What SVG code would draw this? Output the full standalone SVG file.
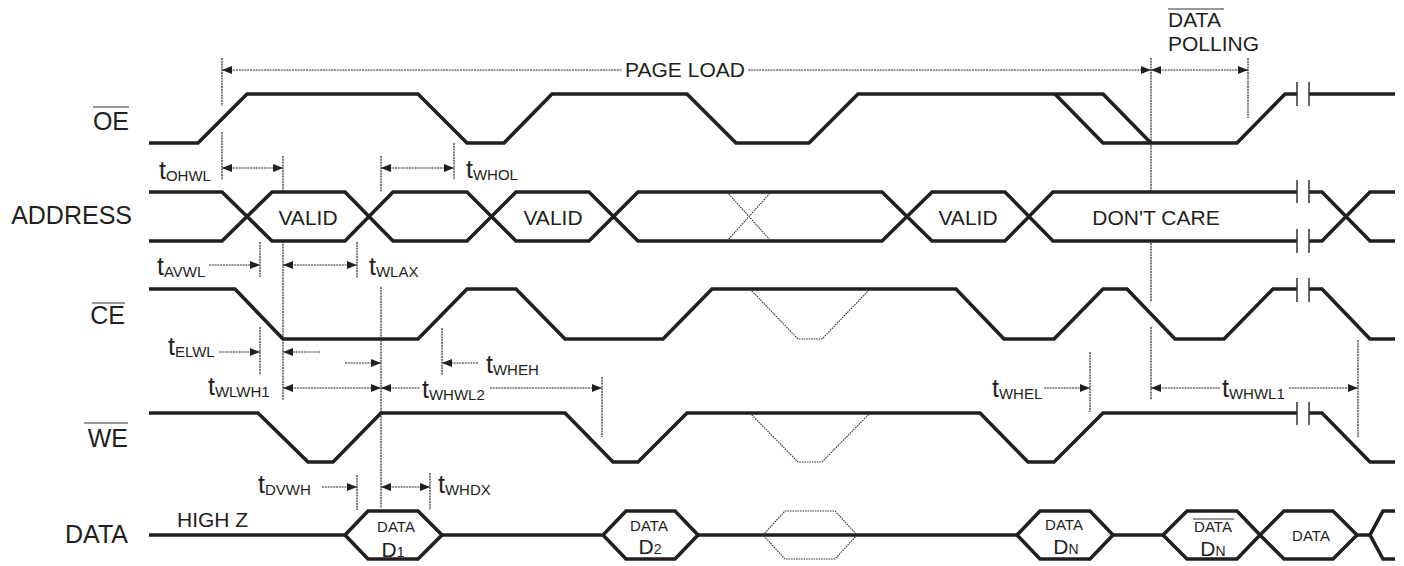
<svg xmlns="http://www.w3.org/2000/svg" width="1404" height="566" viewBox="0 0 1404 566">
<style>
.sig{fill:none;stroke:#231f20;stroke-width:3.6;stroke-linejoin:miter;stroke-linecap:butt}
.dot{fill:none;stroke:#333;stroke-width:1.1;stroke-dasharray:1.6 0.9}
.dim{fill:none;stroke:#2a2a2a;stroke-width:1.2;stroke-dasharray:2 0.8}
.brk{fill:none;stroke:#333;stroke-width:1.5}
.bar{stroke:#333;stroke-width:1.2}
text{font-family:"Liberation Sans",Arial,sans-serif;fill:#231f20}
.lbl{font-size:25px;text-anchor:end}
.t{font-size:25px}
.sub{font-size:15px}
.mid{font-size:21px}
.sm{font-size:15px;text-anchor:middle}
.dn{font-size:21px;text-anchor:middle}
.dns{font-size:14px}
</style>
<defs>
<marker id="ah" viewBox="0 0 10 8" refX="10" refY="4" markerWidth="10" markerHeight="8" markerUnits="userSpaceOnUse" orient="auto-start-reverse">
<path d="M0,0 L10,4 L0,8 Z" fill="#231f20"/>
</marker>
</defs>

<g id="labels">
<text class="lbl" x="129" y="130">OE</text>
<line class="bar" x1="93" y1="107" x2="129" y2="107"/>
<text class="lbl" x="132" y="224">ADDRESS</text>
<text class="lbl" x="125" y="324">CE</text>
<line class="bar" x1="92" y1="303" x2="125" y2="303"/>
<text class="lbl" x="128" y="447">WE</text>
<line class="bar" x1="84" y1="423" x2="128" y2="423"/>
<text class="lbl" x="128" y="543">DATA</text>
</g>

<g id="sig-oe">
<path class="sig" d="M149,143 H198 L247,94 H418 L467,143 H504 L552,94 H687 L736,143 H809 L858,94 H1103 L1151,143"/>
<path class="sig" d="M1055,94 L1103,143 H1237 L1285,94 H1297"/>
<path class="sig" d="M1309,94 H1395"/>
<path class="brk" d="M1297,82 V106 M1309,82 V106"/>
</g>

<g id="sig-address">
<path class="sig" d="M149,192 H222 L272,241 H345 L393,192 H467 L516,241 H589 L638,192 H882 L932,241 H1005 L1053,192 H1297"/>
<path class="sig" d="M149,241 H222 L272,192 H345 L393,241 H467 L516,192 H589 L638,241 H882 L932,192 H1005 L1053,241 H1297"/>
<path class="sig" d="M1309,192 H1322 L1370,241 H1395 M1309,241 H1322 L1370,192 H1395"/>
<path class="dot" d="M727,192 L771,241 M727,241 L771,192"/>
<path class="brk" d="M1297,180 V203 M1309,180 V203 M1297,229 V253 M1309,229 V253"/>
<text class="mid" x="308" y="225" text-anchor="middle">VALID</text>
<text class="mid" x="553" y="225" text-anchor="middle">VALID</text>
<text class="mid" x="968" y="225" text-anchor="middle">VALID</text>
<text class="mid" x="1156" y="225" text-anchor="middle">DON'T CARE</text>
</g>

<g id="sig-ce">
<path class="sig" d="M149,289 H235 L283,339 H418 L467,289 H516 L565,339 H663 L712,289 H956 L1004,339 H1054 L1103,289 H1127 L1175,339 H1224 L1273,289 H1297"/>
<path class="sig" d="M1309,289 H1322 L1370,339 H1395"/>
<path class="dot" d="M750,289 L798,339 H822 L870,289"/>
<path class="brk" d="M1297,278 V302 M1309,278 V302"/>
</g>

<g id="sig-we">
<path class="sig" d="M149,413 H258 L308,462 H333 L381,413 H565 L613,462 H638 L687,413 H980 L1028,462 H1054 L1103,413 H1297"/>
<path class="sig" d="M1309,413 H1322 L1370,462 H1395"/>
<path class="dot" d="M750,413 L798,462 H822 L870,413"/>
<path class="brk" d="M1297,402 V425 M1309,402 V425"/>
</g>

<g id="sig-data">
<path class="sig" d="M149,535 H345 M442,535 H603 M698,535 H1017 M1113,535 H1163 M1357,535 H1370"/>
<path class="sig" d="M345,535 L368,511 H418 L442,535 L418,559 H368 Z"/>
<path class="sig" d="M603,535 L626,511 H675 L698,535 L675,559 H626 Z"/>
<path class="sig" d="M1017,535 L1040,511 H1090 L1113,535 L1090,559 H1040 Z"/>
<path class="sig" d="M1163,535 L1187,511 H1237 L1260,535 L1237,559 H1187 Z"/>
<path class="sig" d="M1260,535 L1284,511 H1333 L1357,535 L1333,559 H1284 Z"/>
<path class="sig" d="M1395,511 H1383 L1370,535 L1383,559 H1395"/>
<path class="dot" d="M763,535 L785,511 H835 L857,535 L835,559 H785 Z"/>
<text class="mid" x="177" y="527">HIGH Z</text>
<text class="sm" x="396" y="532">DATA</text>
<text class="dn" x="393" y="557">D<tspan class="dns">1</tspan></text>
<text class="sm" x="649" y="531">DATA</text>
<text class="dn" x="650" y="554">D<tspan class="dns">2</tspan></text>
<text class="sm" x="1064" y="530">DATA</text>
<text class="dn" x="1066" y="554">D<tspan class="dns">N</tspan></text>
<text class="sm" x="1213" y="532">DATA</text>
<line class="bar" x1="1193" y1="519" x2="1234" y2="519"/>
<text class="dn" x="1213" y="556">D<tspan class="dns">N</tspan></text>
<text class="sm" x="1311" y="541">DATA</text>
</g>

<g id="timing">
<path class="dim" d="M222,58 V106 M222,132 V180 M283,156 V192 M283,241 V400 M381,156 V192 M381,287 V508 M454,143 V180 M260,242 V277 M260,327 V375 M357,242 V278 M357,475 V510 M442,328 V375 M602,377 V437 M430,473 V510 M1090,352 V412 M1151,58 V192 M1151,243 V302 M1151,327 V400 M1248,58 V118 M1358,340 V437"/>
<line class="dim" x1="222" y1="70" x2="622" y2="70" marker-start="url(#ah)"/>
<line class="dim" x1="748" y1="70" x2="1151" y2="70" marker-end="url(#ah)"/>
<line class="dim" x1="1151" y1="70" x2="1248" y2="70" marker-start="url(#ah)" marker-end="url(#ah)"/>
<line class="dim" x1="222" y1="168" x2="283" y2="168" marker-start="url(#ah)" marker-end="url(#ah)"/>
<line class="dim" x1="381" y1="168" x2="454" y2="168" marker-start="url(#ah)" marker-end="url(#ah)"/>
<line class="dim" x1="209" y1="265" x2="260" y2="265" marker-end="url(#ah)"/>
<line class="dim" x1="283" y1="265" x2="357" y2="265" marker-start="url(#ah)" marker-end="url(#ah)"/>
<line class="dim" x1="219" y1="352" x2="260" y2="352" marker-end="url(#ah)"/>
<line class="dim" x1="320" y1="352" x2="283" y2="352" marker-end="url(#ah)"/>
<line class="dim" x1="345" y1="363" x2="381" y2="363" marker-end="url(#ah)"/>
<line class="dim" x1="478" y1="363" x2="442" y2="363" marker-end="url(#ah)"/>
<line class="dim" x1="283" y1="388" x2="381" y2="388" marker-start="url(#ah)" marker-end="url(#ah)"/>
<line class="dim" x1="381" y1="388" x2="420" y2="388" marker-start="url(#ah)"/>
<line class="dim" x1="490" y1="388" x2="602" y2="388" marker-end="url(#ah)"/>
<line class="dim" x1="1044" y1="388" x2="1090" y2="388" marker-end="url(#ah)"/>
<line class="dim" x1="1151" y1="388" x2="1220" y2="388" marker-start="url(#ah)"/>
<line class="dim" x1="1289" y1="388" x2="1358" y2="388" marker-end="url(#ah)"/>
<line class="dim" x1="322" y1="487" x2="357" y2="487" marker-end="url(#ah)"/>
<line class="dim" x1="381" y1="487" x2="430" y2="487" marker-start="url(#ah)" marker-end="url(#ah)"/>
<text class="mid" x="685" y="77" text-anchor="middle">PAGE LOAD</text>
<text class="mid" x="1168" y="27">DATA</text>
<line class="bar" x1="1168" y1="9" x2="1224" y2="9"/>
<text class="mid" x="1168" y="51">POLLING</text>
<text class="t" x="159" y="179">t<tspan class="sub" dy="2">OHWL</tspan></text>
<text class="t" x="466" y="178">t<tspan class="sub" dy="2">WHOL</tspan></text>
<text class="t" x="157" y="275">t<tspan class="sub" dy="2">AVWL</tspan></text>
<text class="t" x="369" y="275">t<tspan class="sub" dy="2">WLAX</tspan></text>
<text class="t" x="168" y="355">t<tspan class="sub" dy="2">ELWL</tspan></text>
<text class="t" x="486" y="373">t<tspan class="sub" dy="2">WHEH</tspan></text>
<text class="t" x="208" y="395">t<tspan class="sub" dy="2">WLWH1</tspan></text>
<text class="t" x="422" y="398">t<tspan class="sub" dy="2">WHWL2</tspan></text>
<text class="t" x="992" y="397">t<tspan class="sub" dy="2">WHEL</tspan></text>
<text class="t" x="1222" y="397">t<tspan class="sub" dy="2">WHWL1</tspan></text>
<text class="t" x="258" y="493">t<tspan class="sub" dy="2">DVWH</tspan></text>
<text class="t" x="438" y="493">t<tspan class="sub" dy="2">WHDX</tspan></text>
</g>
</svg>
